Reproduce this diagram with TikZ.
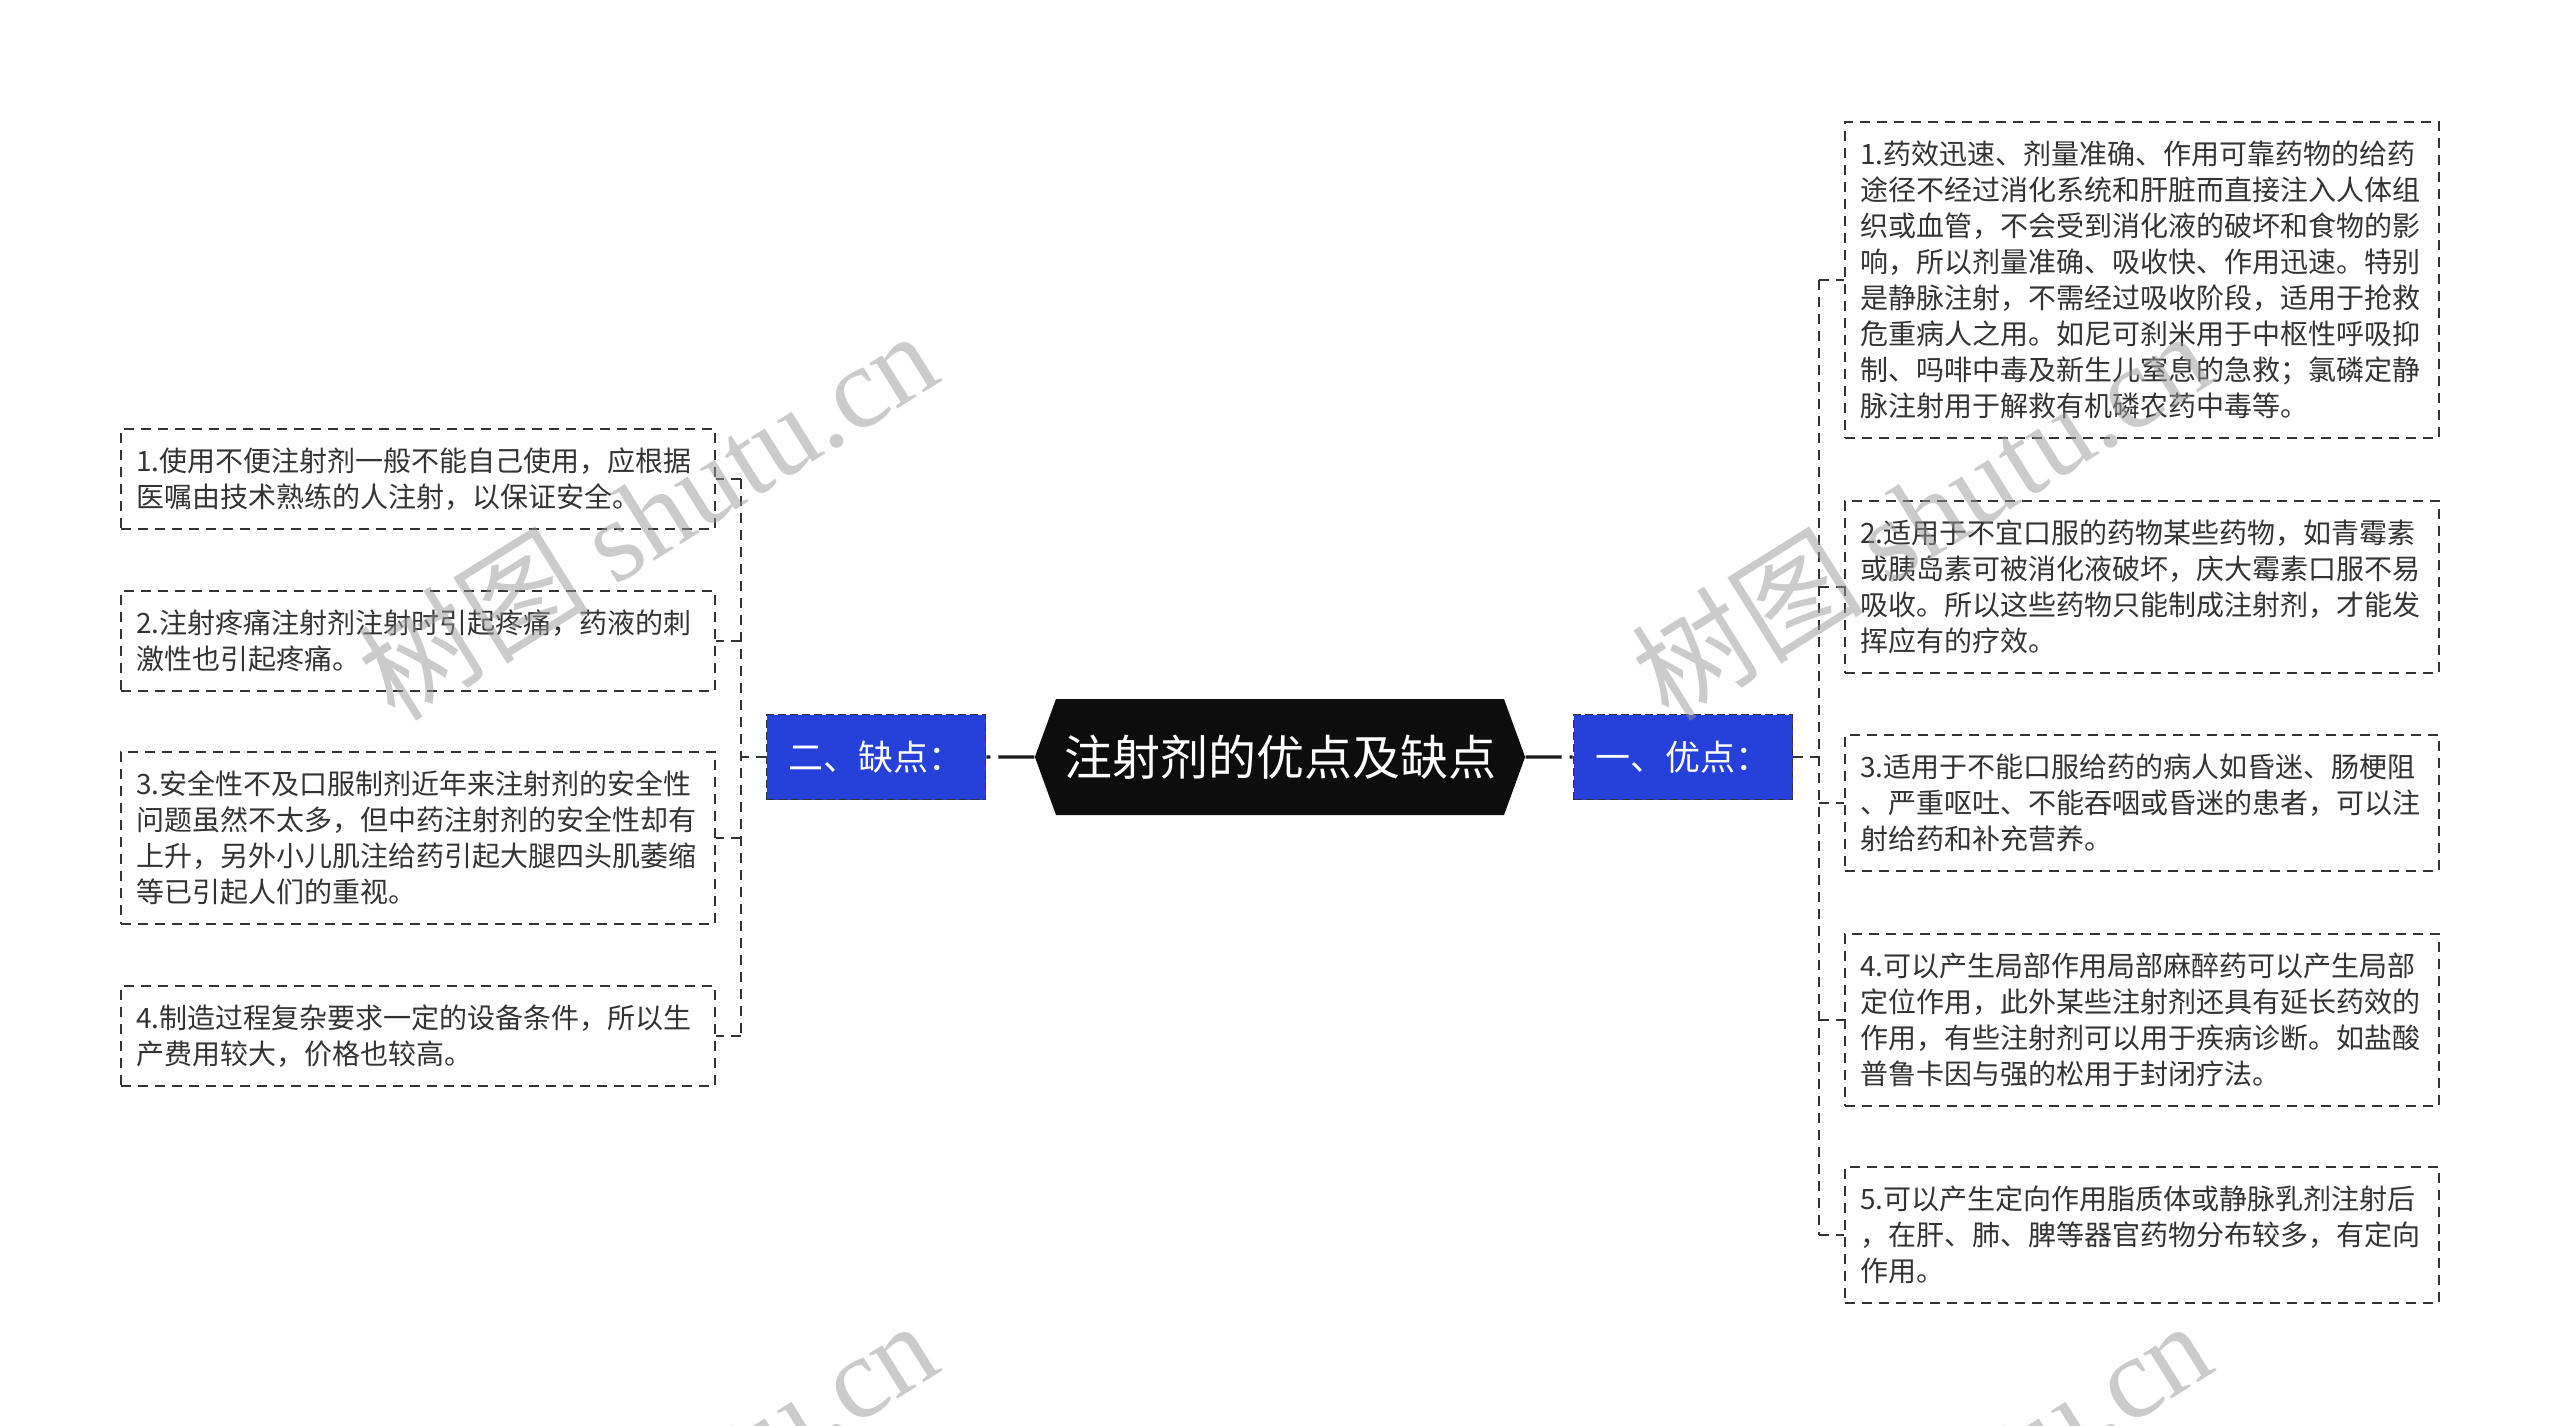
\documentclass[tikz,border=0pt]{standalone}
\usepackage{fontspec}
\setmainfont{Noto Sans CJK SC}
\newfontfamily\wmlatin{Liberation Serif}
\usetikzlibrary{shapes.symbols}
\definecolor{bluebox}{HTML}{2541D9}
\definecolor{inkgray}{HTML}{333333}
\tikzset{
  leafbox/.style={draw=inkgray, line width=1pt, dash pattern=on 5pt off 3.5pt, fill=white,
    align=left, text width=282pt, inner xsep=7.5pt, inner ysep=2pt, text=inkgray,
    minimum height=#1*18pt+14pt, font=\fontsize{14pt}{18pt}\selectfont},
  branchbox/.style={draw=inkgray, line width=0.8pt, dash pattern=on 4pt off 2pt, fill=bluebox,
    text=white, minimum width=109.5pt, minimum height=42.5pt, inner xsep=4pt,
    font=\fontsize{17.5pt}{20pt}\selectfont},
  rootbox/.style={signal, signal to=west and east, signal pointer angle=140, fill=black!95,
    text=white, minimum width=242pt, minimum height=58pt, inner xsep=4pt,
    font=\fontsize{24pt}{28pt}\selectfont},
  bracket/.style={draw=inkgray, line width=1pt, dash pattern=on 5pt off 3.5pt},
  trunk/.style={draw=black!90, line width=1.6pt, dash pattern=on 18pt off 4pt},
  watermark/.style={text=black!40, opacity=0.5, rotate=32, font=\fontsize{58pt}{60pt}\selectfont}
}

\begin{document}
\begin{tikzpicture}[x=0.5pt,y=-0.5pt]
\useasboundingbox (0,0) rectangle (2560,1425);
\clip (0,0) rectangle (2560,1425);
\fill[white] (0,0) rectangle (2560,1425);

\node[rootbox] (root) at (1280,757) {注射剂的优点及缺点};
\node[branchbox] (pros) at (1683,757) {一、优点：};
\node[branchbox] (cons) at (876,757) {二、缺点：};

\node[leafbox=8] (r1) at (2142,280) {1.药效迅速、剂量准确、作用可靠药物的给药\\途径不经过消化系统和肝脏而直接注入人体组\\织或血管，不会受到消化液的破坏和食物的影\\响，所以剂量准确、吸收快、作用迅速。特别\\是静脉注射，不需经过吸收阶段，适用于抢救\\危重病人之用。如尼可刹米用于中枢性呼吸抑\\制、吗啡中毒及新生儿窒息的急救；氯磷定静\\脉注射用于解救有机磷农药中毒等。};
\node[leafbox=4] (r2) at (2142,587) {2.适用于不宜口服的药物某些药物，如青霉素\\或胰岛素可被消化液破坏，庆大霉素口服不易\\吸收。所以这些药物只能制成注射剂，才能发\\挥应有的疗效。};
\node[leafbox=3] (r3) at (2142,803) {3.适用于不能口服给药的病人如昏迷、肠梗阻\\、严重呕吐、不能吞咽或昏迷的患者，可以注\\射给药和补充营养。};
\node[leafbox=4] (r4) at (2142,1020) {4.可以产生局部作用局部麻醉药可以产生局部\\定位作用，此外某些注射剂还具有延长药效的\\作用，有些注射剂可以用于疾病诊断。如盐酸\\普鲁卡因与强的松用于封闭疗法。};
\node[leafbox=3] (r5) at (2142,1235) {5.可以产生定向作用脂质体或静脉乳剂注射后\\，在肝、肺、脾等器官药物分布较多，有定向\\作用。};

\node[leafbox=2] (l1) at (418,479) {1.使用不便注射剂一般不能自己使用，应根据\\医嘱由技术熟练的人注射，以保证安全。};
\node[leafbox=2] (l2) at (418,641) {2.注射疼痛注射剂注射时引起疼痛，药液的刺\\激性也引起疼痛。};
\node[leafbox=4] (l3) at (418,838) {3.安全性不及口服制剂近年来注射剂的安全性\\问题虽然不太多，但中药注射剂的安全性却有\\上升，另外小儿肌注给药引起大腿四头肌萎缩\\等已引起人们的重视。};
\node[leafbox=2] (l4) at (418,1036) {4.制造过程复杂要求一定的设备条件，所以生\\产费用较大，价格也较高。};

\coordinate (rj) at (1819,757);
\coordinate (lj) at (741,757);

\draw[trunk] (root) -- (pros);
\draw[trunk] (root) -- (cons);

\draw[bracket] (pros.east) -- (rj);
\draw[bracket] (r1.west -| rj) -- (r5.west -| rj);
\foreach \leaf in {r1,r2,r3,r4,r5}
  \draw[bracket] (\leaf.west -| rj) -- (\leaf.west);

\draw[bracket] (cons.west) -- (lj);
\draw[bracket] (l1.east -| lj) -- (l4.east -| lj);
\foreach \leaf in {l1,l2,l3,l4}
  \draw[bracket] (\leaf.east -| lj) -- (\leaf.east);

\node[watermark] (wm1) at (647,514) {树图 {\wmlatin shutu.cn}};
\node[watermark] (wm2) at (1921,514) {树图 {\wmlatin shutu.cn}};
\node[watermark] (wm3) at (647,1504) {树图 {\wmlatin shutu.cn}};
\node[watermark] (wm4) at (1921,1504) {树图 {\wmlatin shutu.cn}};
\end{tikzpicture}
\end{document}
